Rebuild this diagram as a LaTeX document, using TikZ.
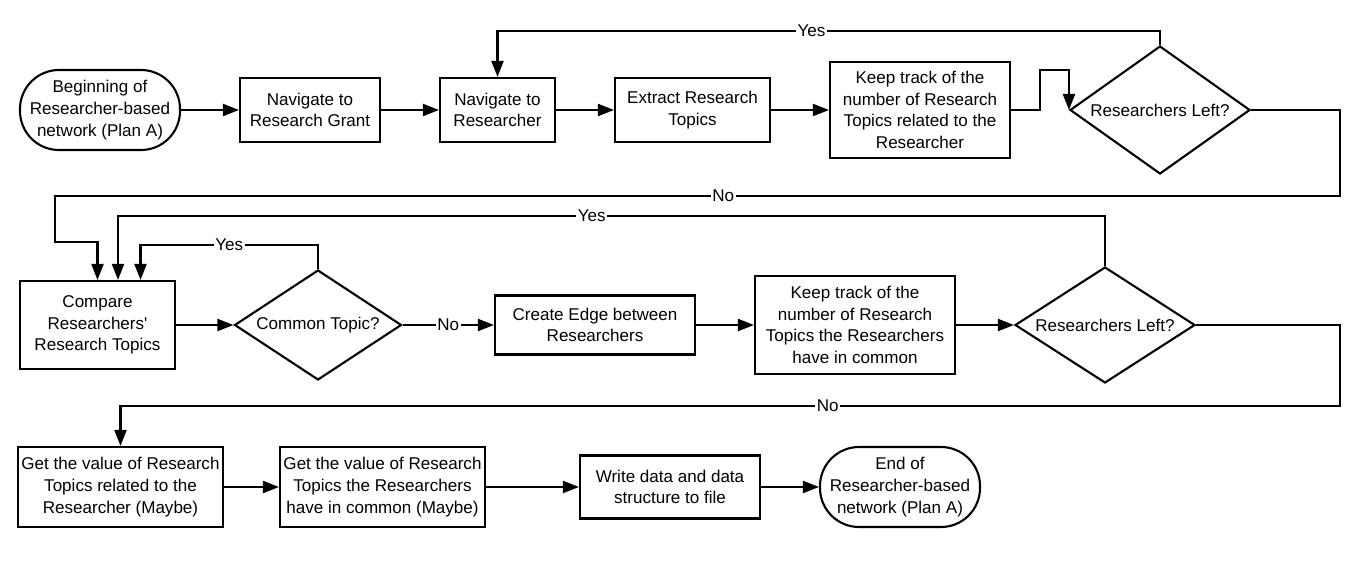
\documentclass[tikz,border=0pt]{standalone}
\usepackage{fontspec}
\setmainfont{Liberation Sans}
\usetikzlibrary{arrows.meta, positioning, calc, shapes}

\begin{document}
\begin{tikzpicture}[
    font=\fontsize{9.7}{12.3}\selectfont,
    line width=1.2pt,
    >={Triangle[length=3.2mm,width=2.4mm]},
    box/.style={draw, align=center, inner sep=0pt},
    term/.style={draw, align=center, rounded corners=0.78cm, minimum width=3.2cm, minimum height=1.6cm, inner sep=0pt},
    test/.style={draw, diamond, align=center, inner sep=0pt},
    lbl/.style={fill=white, inner sep=1pt}]
  \useasboundingbox (0,0) rectangle (27.2,11.34);

  % first row
  \node[term] (start) at (2.0,9.14) {Beginning of\\Researcher-based\\network (Plan A)};
  \node[box, minimum width=2.8cm, minimum height=1.28cm] (grant) at (6.2,9.14) {Navigate to\\Research Grant};
  \node[box, minimum width=2.3cm, minimum height=1.28cm] (navres) at (9.95,9.14) {Navigate to\\Researcher};
  \node[box, minimum width=3.1cm, minimum height=1.28cm] (extract) at (13.85,9.14) {Extract Research\\Topics};
  \node[box, minimum width=3.6cm, minimum height=1.92cm] (keep1) at (18.4,9.14) {Keep track of the\\number of Research\\Topics related to the\\Researcher};
  \node[test, shape aspect=1.4, minimum width=3.6cm, minimum height=2.56cm] (left1) at (23.2,9.14) {\makebox[2.4cm]{Researchers Left?}};

  % second row
  \node[box, minimum width=3.1cm, minimum height=1.76cm] (compare) at (1.95,4.84) {Compare\\Researchers\textquotesingle\\Research Topics};
  \node[test, shape aspect=1.52, minimum width=3.34cm, minimum height=2.2cm] (common) at (6.36,4.84) {\makebox[2.2cm]{Common Topic?}};
  \node[box, minimum width=4.0cm, minimum height=1.18cm] (edge) at (11.9,4.84) {Create Edge between\\Researchers};
  \node[box, minimum width=4.0cm, minimum height=1.96cm] (keep2) at (17.1,4.84) {Keep track of the\\number of Research\\Topics the Researchers\\have in common};
  \node[test, shape aspect=1.55, minimum width=3.6cm, minimum height=2.32cm] (left2) at (22.1,4.84) {\makebox[2.4cm]{Researchers Left?}};

  % third row
  \node[box, minimum width=4.1cm, minimum height=1.6cm] (get1) at (2.41,1.6) {Get the value of Research\\Topics related to the\\Researcher (Maybe)};
  \node[box, minimum width=4.1cm, minimum height=1.6cm] (get2) at (7.65,1.6) {Get the value of Research\\Topics the Researchers\\have in common (Maybe)};
  \node[box, minimum width=3.6cm, minimum height=1.26cm] (write) at (13.4,1.6) {Write data and data\\structure to file};
  \node[term] (stop) at (18.0,1.6) {End of\\Researcher-based\\network (Plan A)};

  \foreach \a/\b in {start/grant, grant/navres, navres/extract, extract/keep1, compare/common, edge/keep2, keep2/left2, get1/get2, get2/write, write/stop} {
    \draw[->] (\a) -- (\b);
  }
  \draw[->] (keep1.east) -- ++(0.58,0) -- ++(0,0.8) -| (left1.west);
  \draw[->] (left1.north) -- ++(0,0.28) -| node[lbl, pos=0.263] {Yes} (navres.north);
  \draw[->] (common) -- node[lbl] {No} (edge);

  % loops back to the compare box
  \coordinate (r1) at (26.8,7.42);
  \draw[->] (left1.east) -| (r1) -- node[lbl, pos=0.48] {No} (1.1,7.42) -- (1.1,6.5) -| (compare.north);
  \draw[->] (left2.north) -- (left2.north |- 0,7.02) -| node[lbl, pos=0.26] {Yes} ($(compare.north)+(0.41,0)$);
  \draw[->] (common.north) -- ++(0,0.48) -| node[lbl, pos=0.25] {Yes} ($(compare.north)+(0.86,0)$);

  % on to the last row
  \coordinate (r2) at (26.8,3.22);
  \draw[->] (left2.east) -| (r2) -- node[lbl, pos=0.42] {No} (r2 -| get1.north) -- (get1.north);
\end{tikzpicture}
\end{document}
